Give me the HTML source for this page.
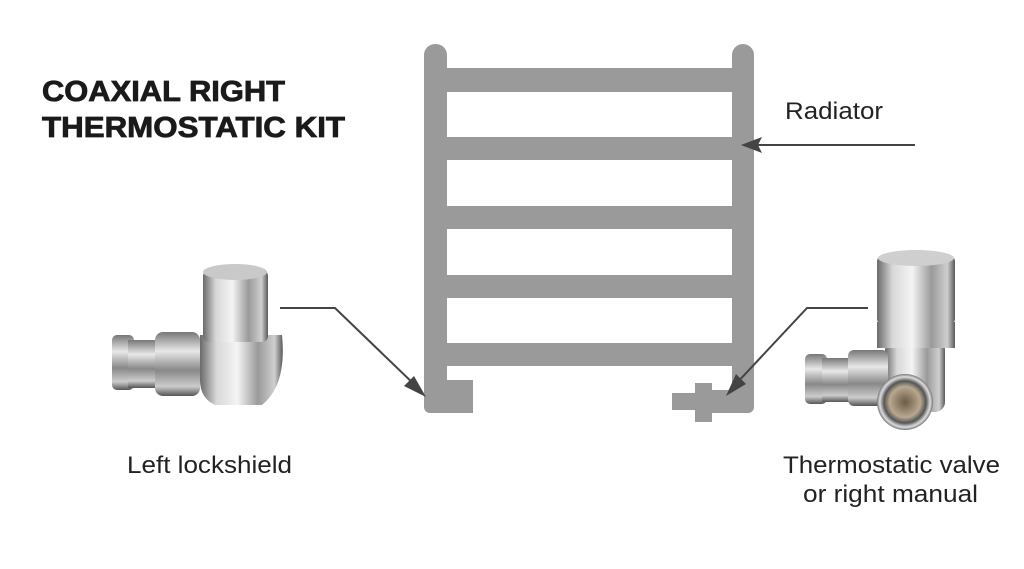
<!DOCTYPE html>
<html><head><meta charset="utf-8"><style>
html,body{margin:0;padding:0;background:#fff;width:1024px;height:569px;overflow:hidden}
svg{display:block}
text{font-family:"Liberation Sans",sans-serif}
</style></head><body>
<svg width="1024" height="569" viewBox="0 0 1024 569" xmlns="http://www.w3.org/2000/svg">
<defs>
<linearGradient id="ch" x1="0" x2="1" y1="0" y2="0">
<stop offset="0" stop-color="#6a6a6a"/><stop offset="0.2" stop-color="#d8d8d8"/><stop offset="0.45" stop-color="#f4f4f4"/><stop offset="0.7" stop-color="#9a9a9a"/><stop offset="0.9" stop-color="#cfcfcf"/><stop offset="1" stop-color="#5a5a5a"/>
</linearGradient>
<linearGradient id="chv" x1="0" x2="0" y1="0" y2="1">
<stop offset="0" stop-color="#777"/><stop offset="0.3" stop-color="#e8e8e8"/><stop offset="0.6" stop-color="#888"/><stop offset="0.85" stop-color="#ccc"/><stop offset="1" stop-color="#555"/>
</linearGradient>
<radialGradient id="nut" cx="0.5" cy="0.5" r="0.5">
<stop offset="0" stop-color="#6b5a45"/><stop offset="0.55" stop-color="#b8a890"/><stop offset="0.75" stop-color="#555"/><stop offset="0.9" stop-color="#ddd"/><stop offset="1" stop-color="#777"/>
</radialGradient>
</defs>
<g fill="#9a9a9a">
<rect x="424" y="44" width="23" height="369" rx="11"/>
<rect x="424" y="390" width="30" height="23" rx="6"/>
<rect x="440" y="380" width="33" height="33"/>
<rect x="732" y="44" width="22" height="369" rx="11"/>
<rect x="700" y="390" width="54" height="23" rx="6"/>
<rect x="447" y="68" width="285" height="24"/>
<rect x="447" y="137" width="285" height="23"/>
<rect x="447" y="206" width="285" height="23"/>
<rect x="447" y="275" width="285" height="23"/>
<rect x="447" y="343" width="285" height="23"/>
<rect x="672" y="393" width="40" height="17"/>
<rect x="695" y="383" width="17" height="39"/>
</g>
<g stroke="#444" stroke-width="2" fill="none">
<polyline points="280,308 335,308 418,388"/>
<polyline points="915,145 752,145"/>
<polyline points="868,308 807,308 734,386"/>
</g>
<g fill="#444">
<polygon points="426,397 404,386 414,376"/>
<polygon points="741,145 762,137 758,145 762,153"/>
<polygon points="726,396 736,374 746,384"/>
</g>
<!-- left valve -->
<g>
<rect x="112" y="335" width="22" height="55" rx="5" fill="url(#chv)"/>
<rect x="128" y="340" width="30" height="48" fill="url(#chv)"/>
<rect x="155" y="332" width="45" height="64" rx="8" fill="url(#chv)"/>
<path d="M200 335 L282 335 Q287 385 262 405 L215 405 Q200 398 200 380Z" fill="url(#ch)"/>
<rect x="203" y="270" width="65" height="72" rx="6" fill="url(#ch)"/>
<ellipse cx="235" cy="272" rx="32" ry="8" fill="#c9c9c9"/>
</g>
<!-- right valve -->
<g>
<rect x="885" y="340" width="60" height="72" rx="10" fill="url(#ch)"/>
<rect x="877" y="322" width="78" height="26" fill="url(#ch)"/>
<rect x="877" y="256" width="78" height="68" rx="5" fill="url(#ch)"/>
<ellipse cx="916" cy="258" rx="38" ry="8" fill="#cfcfcf"/>
<rect x="805" y="354" width="22" height="50" rx="5" fill="url(#chv)"/>
<rect x="822" y="358" width="30" height="44" fill="url(#chv)"/>
<rect x="848" y="350" width="40" height="56" rx="6" fill="url(#chv)"/>
<circle cx="905" cy="402" r="28" fill="url(#nut)"/>
</g>
<text x="42" y="101" font-size="29" font-weight="bold" fill="#1a1a1a" stroke="#1a1a1a" stroke-width="0.8" textLength="243" lengthAdjust="spacingAndGlyphs">COAXIAL RIGHT</text>
<text x="42" y="137" font-size="29" font-weight="bold" fill="#1a1a1a" stroke="#1a1a1a" stroke-width="0.8" textLength="303" lengthAdjust="spacingAndGlyphs">THERMOSTATIC KIT</text>
<text x="785" y="119" font-size="24" fill="#222" textLength="98" lengthAdjust="spacingAndGlyphs">Radiator</text>
<text x="127" y="473" font-size="24" fill="#222" textLength="165" lengthAdjust="spacingAndGlyphs">Left lockshield</text>
<text x="783" y="473" font-size="24" fill="#222" textLength="217" lengthAdjust="spacingAndGlyphs">Thermostatic valve</text>
<text x="803" y="502" font-size="24" fill="#222" textLength="175" lengthAdjust="spacingAndGlyphs">or right manual</text>
</svg>
</body></html>
